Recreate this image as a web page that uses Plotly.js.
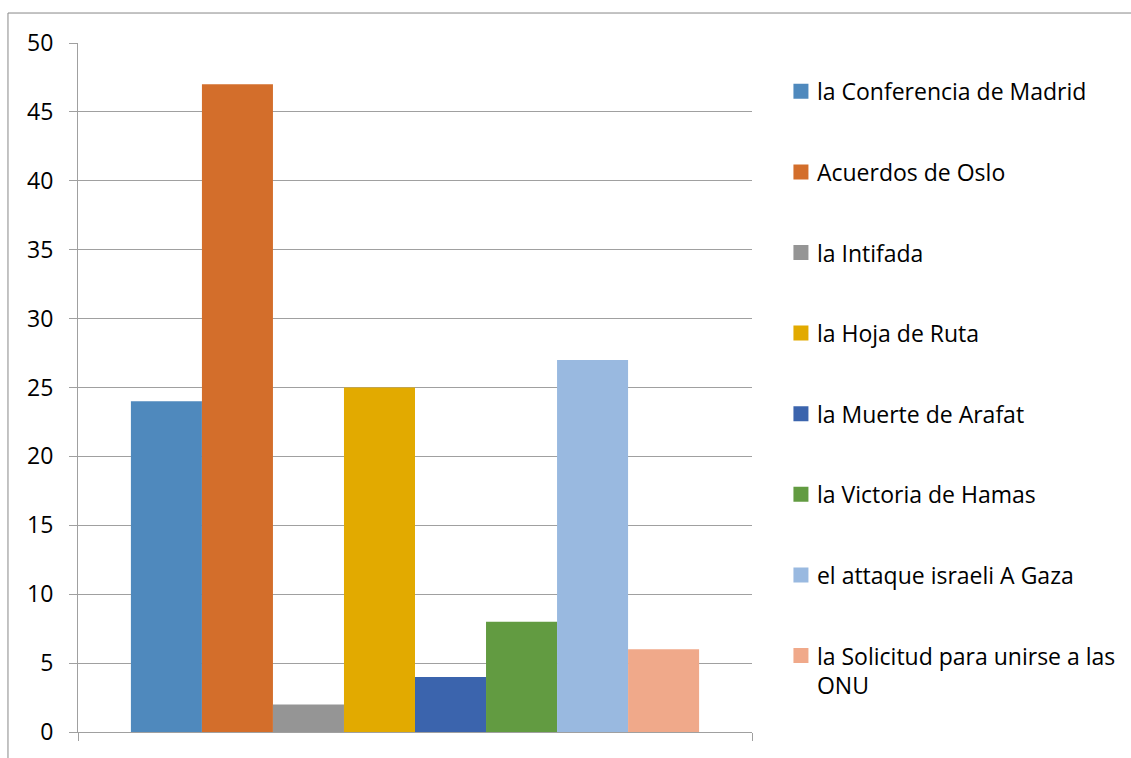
<!DOCTYPE html>
<html>
<head>
<meta charset="utf-8">
<script src="https://cdn.plot.ly/plotly-3.0.1.min.js"></script>
<style>html,body{margin:0;padding:0;background:#fff;}#chart{width:1131px;height:758px;}</style>
</head>
<body>
<div id="chart"></div>
<script>
var seriesNames = [
  "la Conferencia de Madrid",
  "Acuerdos de Oslo",
  "la Intifada",
  "la Hoja de Ruta",
  "la Muerte de Arafat",
  "la Victoria de Hamas",
  "el attaque israeli A Gaza",
  "la Solicitud para unirse a las<br>ONU"
];
var seriesValues = [24, 47, 2, 25, 4, 8, 27, 6];
var seriesColors = ["#4F89BD", "#D36E2B", "#959595", "#E2AA00", "#3B64AD", "#629B41", "#99B9E0", "#F0A98A"];
var categoryPos = [0];
var yTicks = [0, 5, 10, 15, 20, 25, 30, 35, 40, 45, 50];

var FONT = "'Open Sans', 'Noto Sans', sans-serif";
var traces = seriesNames.map(function (name, i) {
  return {
    type: "bar",
    name: name,
    x: categoryPos,
    y: [seriesValues[i]],
    marker: { color: seriesColors[i], line: { width: 0 } },
    legendgroup: "g" + i,
    hoverinfo: "name+y"
  };
});

var layout = {
  width: 1131,
  height: 758,
  margin: { l: 78, r: 379, t: 43, b: 26, pad: 0, autoexpand: false },
  paper_bgcolor: "#ffffff",
  plot_bgcolor: "#ffffff",
  barmode: "group",
  bargap: 0.157,
  bargroupgap: 0,
  font: { family: FONT, size: 23, color: "#000000" },
  xaxis: {
    type: "linear",
    range: [-0.5, 0.5],
    tickvals: [-0.5, 0.5],
    showticklabels: false,
    ticks: "outside",
    ticklen: 8,
    tickcolor: "#A0A0A0",
    showgrid: false,
    zeroline: false,
    showline: true,
    linecolor: "#A0A0A0",
    linewidth: 1,
    fixedrange: true
  },
  yaxis: {
    range: [0, 50],
    tickvals: yTicks,
    ticks: "outside",
    ticklen: 8,
    tickcolor: "#A0A0A0",
    ticklabelstandoff: 11,
    showgrid: true,
    gridcolor: "#A0A0A0",
    gridwidth: 1,
    zeroline: false,
    showline: true,
    linecolor: "#A0A0A0",
    linewidth: 1,
    tickfont: { family: FONT, size: 23, color: "#000000" },
    fixedrange: true
  },
  showlegend: true,
  legend: {
    orientation: "v",
    x: 1.037,
    xanchor: "left",
    y: 0.961,
    yanchor: "top",
    traceorder: "grouped",
    tracegroupgap: 47.7,
    valign: "top",
    bgcolor: "rgba(0,0,0,0)",
    borderwidth: 0,
    font: { family: FONT, size: 23, color: "#000000" }
  },
  shapes: [{
    type: "rect",
    xref: "paper", yref: "paper",
    x0: -0.1039, x1: 2, y0: -1, y1: 1.0435,
    line: { color: "#888888", width: 1 },
    fillcolor: "rgba(0,0,0,0)",
    layer: "above"
  }]
};

function enlargeLegendSymbols() {
  var paths = document.querySelectorAll("#chart .legend .legendpoints path");
  paths.forEach(function (p) { p.setAttribute("d", "M11.5,7.5H-3.5V-7.5H11.5Z"); });
}

Plotly.newPlot("chart", traces, layout, { displayModeBar: false, staticPlot: true }).then(enlargeLegendSymbols);
</script>
</body>
</html>
